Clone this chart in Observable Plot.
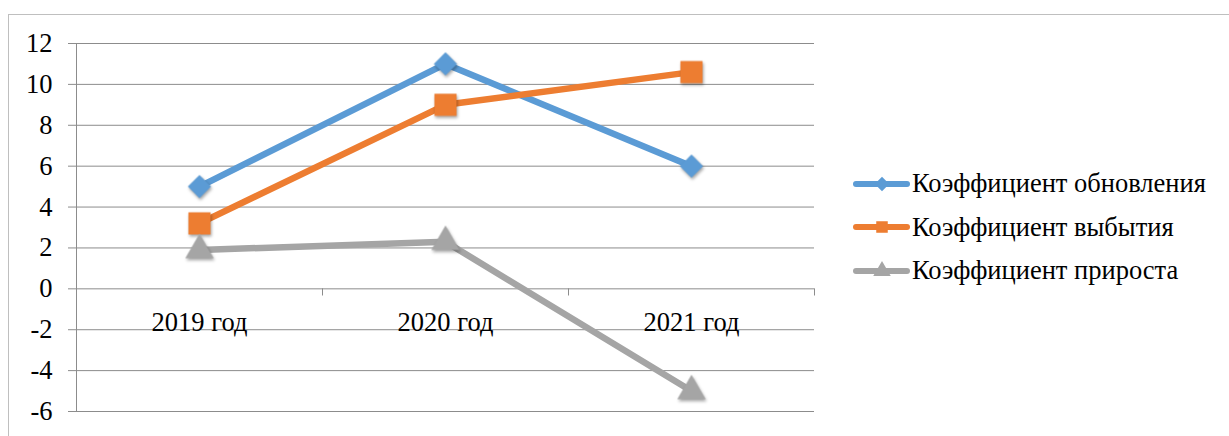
<!DOCTYPE html>
<html><head><meta charset="utf-8">
<script src="https://cdn.jsdelivr.net/npm/d3@7"></script>
<script src="https://cdn.jsdelivr.net/npm/@observablehq/plot@0.6"></script>
<style>
body{margin:0;background:#fff;overflow:hidden;width:1229px;height:436px;position:relative;font-family:"Liberation Serif","Times New Roman",serif;}
#frame{position:absolute;left:8px;top:14px;width:1300px;height:500px;border:1px solid #bfbfbf;}
#chart{position:absolute;left:0;top:0;}
#legend{position:absolute;left:850px;top:162px;}
.lrow{display:flex;align-items:center;height:43.5px;font-size:26.5px;color:#000;white-space:nowrap;}
.lrow svg{display:block;margin-right:0px;}
g[aria-label="dot"]{filter:drop-shadow(1px 2px 1.5px rgba(0,0,0,0.35));}
</style>
</head><body>
<div id="frame"></div>
<div id="chart"></div>
<div id="legend"></div>
<script>
const years = ["2019 год", "2020 год", "2021 год"];
const seriesNames = ["Коэффициент обновления", "Коэффициент выбытия", "Коэффициент прироста"];
const renewal = [5, 11, 6];
const disposal = [3.2, 9, 10.6];
const growth = [1.9, 2.3, -5];
const yTicks = [-6, -4, -2, 0, 2, 4, 6, 8, 10, 12];

const colors = ["#5B9BD5", "#ED7D31", "#A5A5A5"];
const symbols = ["diamond2", "square", "triangle"];
const radii = [10.5, 12.5, 10.5];
const valuesBySeries = [renewal, disposal, growth];

const rows = [];
seriesNames.forEach((s, i) => valuesBySeries[i].forEach((v, j) => rows.push({series: s, year: years[j], value: v})));

const W = 1229, H = 436, ML = 76, MR = 415;
const half = (W - ML - MR) / years.length / 2;
const grid = "#8c8c8c";

const dots = seriesNames.map((s, i) => Plot.dot(rows.filter(d => d.series === s), {
  x: "year", y: "value", symbol: () => symbols[i], fill: colors[i], stroke: "none", r: radii[i]
}));

const chart = Plot.plot({
  width: W, height: H,
  marginLeft: ML, marginRight: MR, marginTop: 43, marginBottom: 25,
  x: {type: "band", domain: years, padding: 0, axis: null},
  y: {domain: [-6, 12], axis: null},
  symbol: {type: "identity"},
  style: {fontFamily: "'Liberation Serif','Times New Roman',serif", fontSize: "26.5px", color: "#000", background: "transparent"},
  marks: [
    Plot.ruleY(yTicks, {stroke: grid, strokeWidth: 1}),
    Plot.axisY({ticks: yTicks, tickFormat: d => String(d), tickSize: 8, tickPadding: 16, stroke: grid, strokeOpacity: 1, fontSize: 26.5, fill: "#000", label: null}),
    Plot.ruleX([years[0]], {x: d => d, dx: -half, stroke: grid, strokeWidth: 1}),
    Plot.ruleX(years, {x: d => d, dx: half, y1: 0, y2: -0.35, stroke: grid, strokeWidth: 1}),
    Plot.text(years, {x: d => d, y: 0, dy: 34, text: d => d, fontSize: 26.5, fill: "#000"}),
    ...seriesNames.map((s, i) => Plot.line(rows.filter(d => d.series === s), {
      x: "year", y: "value", stroke: colors[i], strokeWidth: 6.5, strokeLinejoin: "round", strokeLinecap: "round"
    })),
    ...dots
  ]
});
document.getElementById("chart").appendChild(chart);

// legend
const leg = d3.select("#legend");
seriesNames.forEach((s, i) => {
  const row = leg.append("div").attr("class", "lrow");
  const svg = row.append("svg").attr("width", 62).attr("height", 24);
  svg.append("line").attr("x1", 6).attr("x2", 57).attr("y1", 12).attr("y2", 12)
    .attr("stroke", colors[i]).attr("stroke-width", 6).attr("stroke-linecap", "round");
  const sym = {diamond2: d3.symbolDiamond2, square: d3.symbolSquare, triangle: d3.symbolTriangle}[symbols[i]];
  svg.append("path").attr("transform", "translate(32,12)")
    .attr("d", d3.symbol(sym, Math.PI * 6.5 * 6.5)()).attr("fill", colors[i]);
  row.append("span").text(s);
});
</script>
</body></html>
